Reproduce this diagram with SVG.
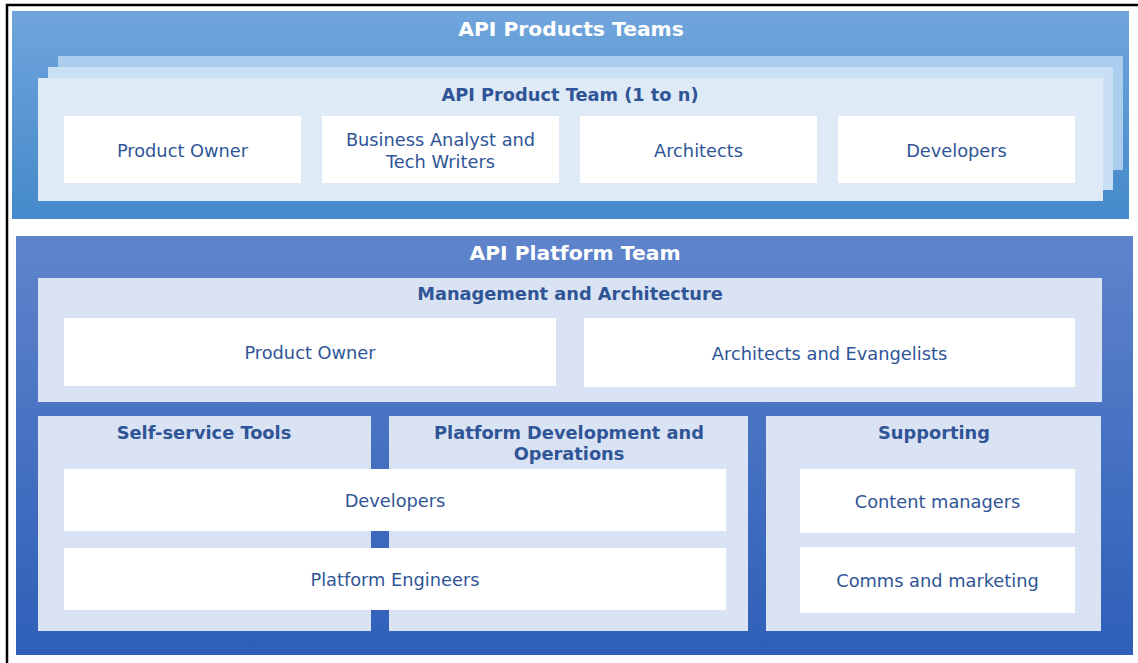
<svg xmlns="http://www.w3.org/2000/svg" width="1138" height="663" viewBox="0 0 1138 663">
<defs>
<linearGradient id="gTop" x1="0" y1="0" x2="0" y2="1"><stop offset="0" stop-color="#70a5dc"/><stop offset="1" stop-color="#4489ca"/></linearGradient>
<linearGradient id="gBot" x1="0" y1="0" x2="0" y2="1"><stop offset="0" stop-color="#5f84cb"/><stop offset="1" stop-color="#2e5fb8"/></linearGradient>
<style>
.w{fill:#ffffff}
.lt{fill:#dae3f3}
.t{font-family:"DejaVu Sans",Verdana,sans-serif;font-size:17.8px;fill:#2f5597;text-anchor:middle;dominant-baseline:central}
.b{font-weight:bold}
.h{font-family:"DejaVu Sans",Verdana,sans-serif;font-size:20.3px;font-weight:bold;fill:#ffffff;text-anchor:middle;dominant-baseline:central}
</style>
</defs>
<rect width="1138" height="663" fill="#ffffff"/>
<path d="M7 663 V5 H1138" fill="none" stroke="#000" stroke-width="2.5"/>

<g id="api-products-teams">
<rect x="12" y="11" width="1117" height="208" fill="url(#gTop)"/>
<text class="h" x="571" y="29">API Products Teams</text>
<rect x="58" y="56" width="1065" height="114" fill="#abcdee"/>
<rect x="48" y="67" width="1065" height="123" fill="#c9dff3"/>
</g>
<g id="api-product-team">
<rect x="38" y="78" width="1065" height="123" fill="#deeaf6"/>
<text class="t b" x="570" y="94">API Product Team (1 to n)</text>
</g>
<g id="top-product-owner"><rect class="w" x="64" y="116" width="237" height="67"/><text class="t" x="182.5" y="150">Product Owner</text></g>
<g id="top-ba"><rect class="w" x="322" y="116" width="237" height="67"/><text class="t" x="440.5" y="139">Business Analyst and</text><text class="t" x="440.5" y="161">Tech Writers</text></g>
<g id="top-architects"><rect class="w" x="580" y="116" width="237" height="67"/><text class="t" x="698.5" y="150">Architects</text></g>
<g id="top-developers"><rect class="w" x="838" y="116" width="237" height="67"/><text class="t" x="956.5" y="150">Developers</text></g>

<g id="api-platform-team">
<rect x="16" y="236" width="1117" height="419" fill="url(#gBot)"/>
<text class="h" x="575" y="253">API Platform Team</text>
</g>
<g id="management">
<rect class="lt" x="38" y="278" width="1064" height="124"/>
<text class="t b" x="570" y="293">Management and Architecture</text>
</g>
<g id="mgmt-product-owner"><rect class="w" x="64" y="318" width="492" height="68"/><text class="t" x="310" y="352">Product Owner</text></g>
<g id="mgmt-architects"><rect class="w" x="584" y="318" width="491" height="69"/><text class="t" x="829.5" y="353">Architects and Evangelists</text></g>

<g id="self-service"><rect class="lt" x="38" y="416" width="333" height="215"/><text class="t b" x="204" y="432">Self-service Tools</text></g>
<g id="platform-dev"><rect class="lt" x="389" y="416" width="359" height="215"/><text class="t b" x="569" y="432">Platform Development and</text><text class="t b" x="569" y="453">Operations</text></g>
<g id="supporting"><rect class="lt" x="766" y="416" width="335" height="215"/><text class="t b" x="934" y="432">Supporting</text></g>

<g id="developers"><rect class="w" x="64" y="469" width="662" height="62"/><text class="t" x="395" y="500">Developers</text></g>
<g id="platform-engineers"><rect class="w" x="64" y="548" width="662" height="62"/><text class="t" x="395" y="579">Platform Engineers</text></g>
<g id="content-managers"><rect class="w" x="800" y="469" width="275" height="64"/><text class="t" x="937.5" y="501">Content managers</text></g>
<g id="comms"><rect class="w" x="800" y="547" width="275" height="66"/><text class="t" x="937.5" y="580">Comms and marketing</text></g>

<g id="connectors"/>
</svg>
